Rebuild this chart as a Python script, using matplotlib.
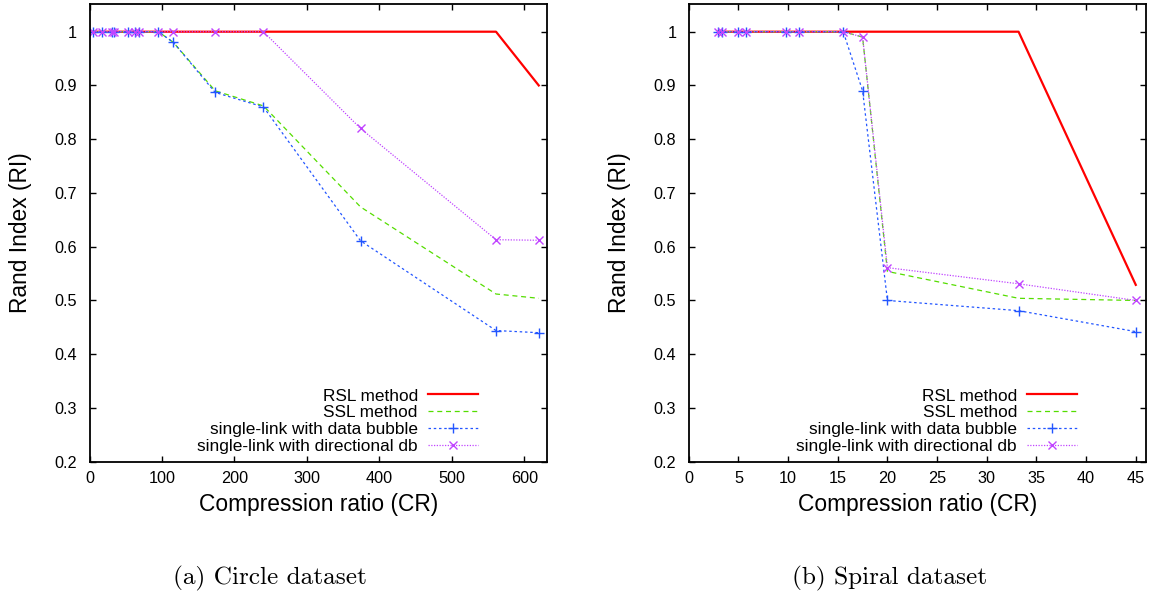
import numpy as np
import matplotlib.pyplot as plt
from matplotlib.ticker import FuncFormatter

# ===== Datos: (a) Circle dataset =====
cr_circle = [4.4, 17, 31.5, 34.3, 53.6, 62.8, 68.8, 95, 115.8, 173.4, 240, 374, 561, 620]
rsl_circle = [1, 1, 1, 1, 1, 1, 1, 1, 1, 1, 1, 1, 1, 0.9]
ssl_circle = [1, 1, 1, 1, 1, 1, 1, 1, 0.98, 0.89, 0.862, 0.674, 0.512, 0.504]
db_circle = [1, 1, 1, 1, 1, 1, 1, 1, 0.98, 0.887, 0.86, 0.611, 0.444, 0.44]
ddb_circle = [1, 1, 1, 1, 1, 1, 1, 1, 1, 1, 1, 0.82, 0.613, 0.612]

# ===== Datos: (b) Spiral dataset =====
cr_spiral = [2.95, 3.3, 4.97, 5.8, 9.76, 11.1, 15.55, 17.5, 20.0, 33.2, 45.0]
rsl_spiral = [1, 1, 1, 1, 1, 1, 1, 1, 1, 1, 0.529]
ssl_spiral = [1, 1, 1, 1, 1, 1, 1, 0.99, 0.554, 0.504, 0.5]
db_spiral = [1, 1, 1, 1, 1, 1, 1, 0.89, 0.5, 0.481, 0.442]
ddb_spiral = [1, 1, 1, 1, 1, 1, 1, 0.99, 0.561, 0.531, 0.5]

labels = ['RSL method', 'SSL method', 'single-link with data bubble',
          'single-link with directional db']
yticks = [0.2, 0.3, 0.4, 0.5, 0.6, 0.7, 0.8, 0.9, 1.0]

plt.rcParams['font.family'] = ['Liberation Sans', 'DejaVu Sans']

fig = plt.figure(figsize=(11.51, 6.0), dpi=100)
ax1 = fig.add_axes([0.0778, 0.2305, 0.3972, 0.7628])
ax2 = fig.add_axes([0.5984, 0.2305, 0.3970, 0.7628])


def dibujar(ax, x, rsl, ssl, db, ddb, xlim, xticks):
    ax.plot(x, rsl, color='#ff0000', lw=1.6, label=labels[0])
    ax.plot(x, ssl, color='#55dd00', lw=0.9, dashes=(4, 3), label=labels[1])
    ax.plot(x, db, color='#2255ff', lw=0.9, dashes=(2, 2.2), marker='+',
            ms=7.5, mew=1.0, label=labels[2])
    ax.plot(x, ddb, color='#c044ff', lw=0.9, dashes=(1, 1.2), marker='x',
            ms=6, mew=1.0, label=labels[3])
    ax.set_xlim(*xlim)
    ax.set_ylim(0.2, 1.0515)
    ax.set_xticks(xticks)
    ax.set_yticks(yticks)
    ax.yaxis.set_major_formatter(FuncFormatter(lambda v, p: '%g' % round(v, 2)))
    ax.tick_params(direction='in', length=4.5, width=1.0, top=True, right=True,
                   labelsize=11.7)
    ax.tick_params(axis='x', pad=7)
    ax.tick_params(axis='y', pad=9)
    for s in ax.spines.values():
        s.set_linewidth(1.3)
    ax.set_xlabel('Compression ratio (CR)', fontsize=16.4, labelpad=5)
    ax.set_ylabel('Rand Index (RI)', fontsize=16.4, labelpad=16)
    ax.legend(loc='lower right', bbox_to_anchor=(0.85, 0.016), frameon=False,
              markerfirst=False, fontsize=12.4, handlelength=2.9,
              handletextpad=0.6, labelspacing=0.11, borderpad=0,
              borderaxespad=0)


dibujar(ax1, cr_circle, rsl_circle, ssl_circle, db_circle, ddb_circle,
        (0, 631), [0, 100, 200, 300, 400, 500, 600])
dibujar(ax2, cr_spiral, rsl_spiral, ssl_spiral, db_spiral, ddb_spiral,
        (0, 46), [0, 5, 10, 15, 20, 25, 30, 35, 40, 45])

# Subtítulos
fig.text(270 / 1151, 1 - 578 / 600, '(a) Circle dataset', family='cmr10',
         fontsize=18.2, ha='center', va='center')
fig.text(890 / 1151, 1 - 578 / 600, '(b) Spiral dataset', family='cmr10',
         fontsize=18.2, ha='center', va='center')

fig.savefig('out.png', dpi=100)
